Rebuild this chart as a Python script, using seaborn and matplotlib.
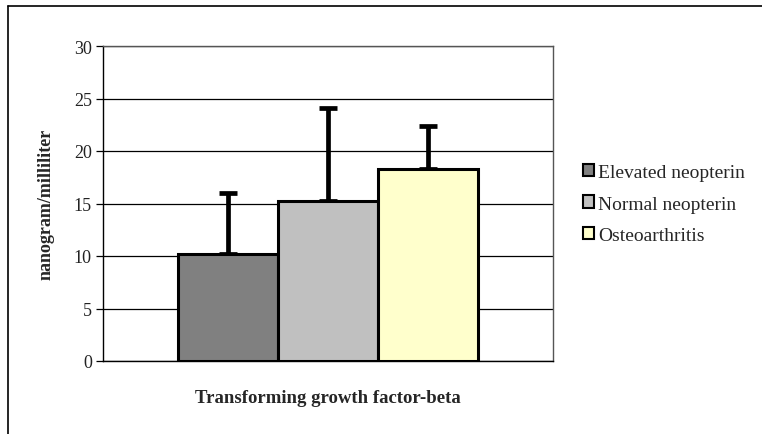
import matplotlib
matplotlib.use("Agg")
import matplotlib.pyplot as plt
import matplotlib.patches as mpatches
import seaborn as sns
import pandas as pd

category = ["Transforming growth factor-beta"]
groups = ["Elevated neopterin", "Normal neopterin", "Osteoarthritis"]
means = [10.2, 15.2, 18.3]
upper_err = [5.8, 8.9, 4.1]
colors = ["#808080", "#C0C0C0", "#FFFFCC"]
yticks = [0, 5, 10, 15, 20, 25, 30]

sns.set_theme(style="white")
plt.rcParams["font.family"] = ["Liberation Serif", "DejaVu Serif"]

df = pd.DataFrame({"cat": category * len(groups), "group": groups, "value": means})

fig = plt.figure(figsize=(7.62, 4.35), dpi=100)
ax = fig.add_axes([103 / 762, 1 - 362 / 435, 450 / 762, 315 / 435])

sns.barplot(data=df, x="cat", y="value", hue="group", hue_order=groups,
            palette=colors, saturation=1, width=0.667, errorbar=None, ax=ax,
            edgecolor="black", linewidth=2.2, legend=False, zorder=3)

bars = [p for p in ax.patches if isinstance(p, mpatches.Rectangle)][:len(groups)]
xs = [b.get_x() + b.get_width() / 2 for b in bars]
ax.errorbar(xs, means, yerr=[[0] * len(means), upper_err], fmt="none",
            ecolor="black", elinewidth=3.4, capsize=6.5, capthick=3.4, zorder=2)

ax.set_xlim(-0.5, 0.5)
ax.set_ylim(0, 30)
ax.set_yticks(yticks)
ax.set_yticklabels([str(t) for t in yticks], fontsize=13, color="#222222")
ax.set_xticks([])
ax.yaxis.grid(True, color="black", linewidth=0.9)
ax.set_axisbelow(True)
ax.tick_params(axis="y", length=5, width=0.9, color="black", left=True, pad=3)
for s in ax.spines.values():
    s.set_visible(True)
    s.set_color("#555555")
    s.set_linewidth(1.0)
ax.spines["left"].set_color("black")
ax.spines["bottom"].set_color("black")

ax.set_xlabel("Transforming growth factor-beta", fontsize=13.5, fontweight="bold", labelpad=20)
ax.set_ylabel("nanogram/milliliter", fontsize=13, fontweight="bold", labelpad=14)

handles = [mpatches.Patch(facecolor=c, edgecolor="black", linewidth=1.5, label=g)
           for c, g in zip(colors, groups)]
fig.legend(handles=handles, loc="center left", bbox_to_anchor=(575 / 762, 1 - 205 / 435),
           frameon=False, prop={"family": ["Liberation Serif"], "size": 14},
           handlelength=0.6, handleheight=0.6,
           handletextpad=0.2, labelspacing=0.75, borderaxespad=0)

fig.add_artist(plt.Line2D([8 / 762, 8 / 762], [0, 1 - 7 / 435], transform=fig.transFigure,
                          color="black", linewidth=1.2))
fig.add_artist(plt.Line2D([8 / 762, 1], [1 - 7 / 435, 1 - 7 / 435], transform=fig.transFigure,
                          color="black", linewidth=1.2))

fig.savefig("out.png", dpi=100)
